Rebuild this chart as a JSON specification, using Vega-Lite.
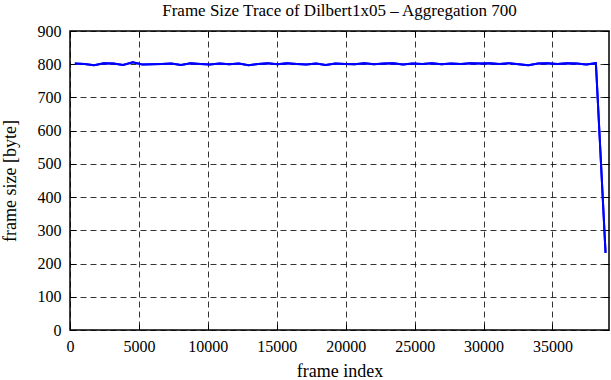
{
  "$schema": "https://vega.github.io/schema/vega-lite/v6.json",
  "width": 539,
  "height": 299,
  "autosize": {"type": "none"},
  "padding": {"left": 70, "top": 31, "right": 2, "bottom": 50},
  "background": "white",
  "title": {"text": "Frame Size Trace of Dilbert1x05 – Aggregation 700", "font": "Liberation Serif", "fontSize": 17, "fontWeight": "normal", "color": "black", "offset": 3, "anchor": "middle"},
  "config": {
    "view": {"stroke": "black", "strokeWidth": 1.5},
    "axis": {"labelFont": "Liberation Serif", "titleFont": "Liberation Serif", "labelFontSize": 16, "titleFontSize": 18, "titleFontWeight": "normal", "labelColor": "black", "titleColor": "black", "domainColor": "black", "tickColor": "black", "gridColor": "black", "gridDash": [6, 4], "gridOpacity": 1, "gridWidth": 0.8}
  },
  "data": {"values": [
    {"frame": 350, "size": 802}, {"frame": 1050, "size": 801}, {"frame": 1750, "size": 797}, {"frame": 2450, "size": 803},
    {"frame": 3150, "size": 802}, {"frame": 3850, "size": 798}, {"frame": 4550, "size": 806}, {"frame": 5250, "size": 799},
    {"frame": 5950, "size": 800}, {"frame": 6650, "size": 801}, {"frame": 7350, "size": 802}, {"frame": 8050, "size": 798},
    {"frame": 8750, "size": 803}, {"frame": 9450, "size": 801}, {"frame": 10150, "size": 799}, {"frame": 10850, "size": 802},
    {"frame": 11550, "size": 800}, {"frame": 12250, "size": 802}, {"frame": 12950, "size": 797}, {"frame": 13650, "size": 801},
    {"frame": 14350, "size": 803}, {"frame": 15050, "size": 800}, {"frame": 15750, "size": 803}, {"frame": 16450, "size": 801},
    {"frame": 17150, "size": 799}, {"frame": 17850, "size": 802}, {"frame": 18550, "size": 798}, {"frame": 19250, "size": 802},
    {"frame": 19950, "size": 801}, {"frame": 20650, "size": 800}, {"frame": 21350, "size": 803}, {"frame": 22050, "size": 800},
    {"frame": 22750, "size": 802}, {"frame": 23450, "size": 803}, {"frame": 24150, "size": 799}, {"frame": 24850, "size": 802},
    {"frame": 25550, "size": 801}, {"frame": 26250, "size": 803}, {"frame": 26950, "size": 800}, {"frame": 27650, "size": 802},
    {"frame": 28350, "size": 801}, {"frame": 29050, "size": 803}, {"frame": 29750, "size": 802}, {"frame": 30450, "size": 803},
    {"frame": 31150, "size": 801}, {"frame": 31850, "size": 803}, {"frame": 32550, "size": 800}, {"frame": 33250, "size": 797},
    {"frame": 33950, "size": 802}, {"frame": 34650, "size": 803}, {"frame": 35350, "size": 801}, {"frame": 36050, "size": 803},
    {"frame": 36750, "size": 802}, {"frame": 37450, "size": 799}, {"frame": 38150, "size": 803}, {"frame": 38850, "size": 232}
  ]},
  "layer": [
    {
      "mark": {"type": "line", "color": "#0000ff", "strokeWidth": 2},
      "encoding": {
        "x": {"field": "frame", "type": "quantitative", "scale": {"domain": [0, 39100], "nice": false, "zero": false},
              "axis": {"title": "frame index", "values": [0, 5000, 10000, 15000, 20000, 25000, 30000, 35000], "format": "d", "grid": true, "tickSize": -6, "labelPadding": 14, "titlePadding": 8, "domain": false, "labelFlush": false}},
        "y": {"field": "size", "type": "quantitative", "scale": {"domain": [0, 900], "nice": false},
              "axis": {"title": "frame size [byte]", "values": [0, 100, 200, 300, 400, 500, 600, 700, 800, 900], "grid": true, "tickSize": -6, "labelPadding": 15, "titlePadding": 18, "domain": false}}
      }
    },
    {
      "mark": {"type": "line", "color": "#0000ff", "strokeWidth": 2},
      "encoding": {
        "x": {"field": "frame", "type": "quantitative", "scale": {"domain": [0, 39100], "nice": false, "zero": false},
              "axis": {"orient": "top", "title": null, "labels": false, "values": [0, 5000, 10000, 15000, 20000, 25000, 30000, 35000], "grid": false, "tickSize": -6, "domain": false}},
        "y": {"field": "size", "type": "quantitative", "scale": {"domain": [0, 900], "nice": false},
              "axis": {"orient": "right", "title": null, "labels": false, "values": [0, 100, 200, 300, 400, 500, 600, 700, 800, 900], "grid": false, "tickSize": -6, "domain": false}}
      }
    }
  ],
  "resolve": {"axis": {"x": "independent", "y": "independent"}}
}
